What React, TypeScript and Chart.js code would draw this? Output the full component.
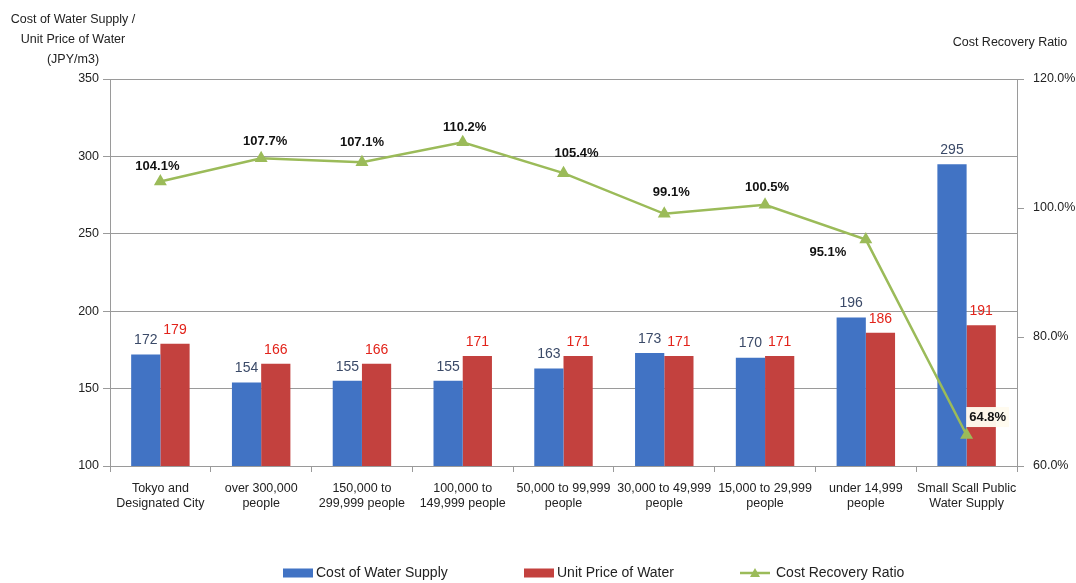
import React, { useEffect, useRef } from 'react';
import { Chart, registerables } from 'chart.js';

Chart.register(...registerables);

const categories: string[][] = [
  ['Tokyo and', 'Designated City'],
  ['over 300,000', 'people'],
  ['150,000 to', '299,999 people'],
  ['100,000 to', '149,999 people'],
  ['50,000 to 99,999', 'people'],
  ['30,000 to 49,999', 'people'],
  ['15,000 to 29,999', 'people'],
  ['under 14,999', 'people'],
  ['Small Scall Public', 'Water Supply'],
];
const costOfWaterSupply = [172, 154, 155, 155, 163, 173, 170, 196, 295];
const unitPriceOfWater = [179, 166, 166, 171, 171, 171, 171, 186, 191];
const costRecoveryRatio = [104.1, 107.7, 107.1, 110.2, 105.4, 99.1, 100.5, 95.1, 64.8];

const seriesNames = ['Cost of Water Supply', 'Unit Price of Water', 'Cost Recovery Ratio'];
const leftTitle = ['Cost of Water Supply /', 'Unit Price of Water', '(JPY/m3)'];
const rightTitle = 'Cost Recovery Ratio';

const FONT = '"Liberation Sans", Arial, sans-serif';
const BLUE = '#4173C4';
const RED = '#C3413E';
const GREEN = '#9BBB59';
const GRID = '#9a9a9a';

// label offsets (style only) for the ratio labels, relative to the point
const ratioLabelOffsets = [
  [-3, -15], [4, -17], [0, -20], [2, -15], [13, -20], [7, -21], [2, -17], [-38, 13], [21, -18],
];

const overlayPlugin = {
  id: 'overlay',
  afterDatasetsDraw(chart: any) {
    const ctx = chart.ctx;
    ctx.save();
    const metaBlue = chart.getDatasetMeta(1);
    const metaRed = chart.getDatasetMeta(2);
    ctx.font = `14px ${FONT}`;
    ctx.textAlign = 'center';
    ctx.textBaseline = 'middle';
    metaBlue.data.forEach((el: any, i: number) => {
      ctx.fillStyle = '#3B4A68';
      ctx.fillText(String(costOfWaterSupply[i]), el.x, el.y - 14);
    });
    metaRed.data.forEach((el: any, i: number) => {
      ctx.fillStyle = '#E2231A';
      ctx.fillText(String(unitPriceOfWater[i]), el.x, el.y - 14);
    });
    const metaLine = chart.getDatasetMeta(0);
    ctx.font = `bold 13px ${FONT}`;
    metaLine.data.forEach((el: any, i: number) => {
      const [dx, dy] = ratioLabelOffsets[i];
      const txt = costRecoveryRatio[i].toFixed(1) + '%';
      const x = el.x + dx;
      const y = el.y + dy;
      if (i === costRecoveryRatio.length - 1) {
        const w = ctx.measureText(txt).width + 6;
        ctx.fillStyle = 'rgba(255,251,238,0.97)';
        ctx.fillRect(x - w / 2, y - 10, w, 20);
      }
      ctx.fillStyle = '#111';
      ctx.fillText(txt, x, y);
    });
    ctx.restore();
  },
  afterDraw(chart: any) {
    const ctx = chart.ctx;
    ctx.save();
    ctx.fillStyle = '#222';
    ctx.font = `12.5px ${FONT}`;
    ctx.textAlign = 'center';
    ctx.textBaseline = 'middle';
    leftTitle.forEach((t, i) => ctx.fillText(t, 73, 20 + i * 20));
    ctx.fillText(rightTitle, 1010, 43);

    const cy = 573;
    ctx.font = `14px ${FONT}`;
    ctx.textAlign = 'left';
    ctx.fillStyle = BLUE;
    ctx.fillRect(283, cy - 4.5, 30, 9);
    ctx.fillStyle = '#222';
    ctx.fillText(seriesNames[0], 316, cy);
    ctx.fillStyle = RED;
    ctx.fillRect(524, cy - 4.5, 30, 9);
    ctx.fillStyle = '#222';
    ctx.fillText(seriesNames[1], 557, cy);
    ctx.strokeStyle = GREEN;
    ctx.lineWidth = 2.5;
    ctx.beginPath();
    ctx.moveTo(740, cy);
    ctx.lineTo(770, cy);
    ctx.stroke();
    ctx.fillStyle = GREEN;
    ctx.beginPath();
    ctx.moveTo(755, cy - 5);
    ctx.lineTo(760, cy + 4);
    ctx.lineTo(750, cy + 4);
    ctx.closePath();
    ctx.fill();
    ctx.fillStyle = '#222';
    ctx.fillText(seriesNames[2], 776, cy);
    ctx.restore();
  },
};

export default function App() {
  const canvasRef = useRef<HTMLCanvasElement | null>(null);

  useEffect(() => {
    document.body.style.margin = '0';
    const canvas = canvasRef.current;
    if (!canvas) return;
    const chart = new Chart(canvas, {
      type: 'bar',
      data: {
        labels: categories as any,
        datasets: [
          {
            type: 'line',
            label: seriesNames[2],
            data: costRecoveryRatio,
            yAxisID: 'y1',
            borderColor: GREEN,
            backgroundColor: GREEN,
            borderWidth: 2.5,
            pointStyle: 'triangle',
            pointRadius: 5,
            pointBackgroundColor: GREEN,
            pointBorderColor: GREEN,
            tension: 0,
            order: 0,
          } as any,
          {
            type: 'bar',
            label: seriesNames[0],
            data: costOfWaterSupply,
            yAxisID: 'y',
            backgroundColor: BLUE,
            barPercentage: 1,
            categoryPercentage: 0.58,
            order: 1,
          },
          {
            type: 'bar',
            label: seriesNames[1],
            data: unitPriceOfWater,
            yAxisID: 'y',
            backgroundColor: RED,
            barPercentage: 1,
            categoryPercentage: 0.58,
            order: 2,
          },
        ],
      },
      options: {
        responsive: false,
        animation: false,
        devicePixelRatio: 1,
        layout: { padding: { top: 79, left: 0, right: 0, bottom: 0 } },
        plugins: {
          legend: { display: false },
          tooltip: { enabled: false },
        },
        scales: {
          x: {
            offset: true,
            grid: { offset: true, drawOnChartArea: false, drawTicks: true, tickLength: 6, color: GRID },
            border: { color: GRID },
            ticks: {
              font: { family: FONT, size: 12.5, lineHeight: 1.2 },
              color: '#222',
              padding: 9,
              maxRotation: 0,
              autoSkip: false,
            },
            afterFit: (s: any) => { s.height = 117; },
          },
          y: {
            position: 'left',
            min: 100,
            max: 350,
            ticks: { stepSize: 50, font: { family: FONT, size: 12.5 }, color: '#222', padding: 4 },
            grid: { color: GRID, tickLength: 7 },
            border: { color: GRID },
            afterFit: (s: any) => { s.width = 110; },
          },
          y1: {
            position: 'right',
            min: 60,
            max: 120,
            ticks: {
              stepSize: 20,
              font: { family: FONT, size: 12.5 },
              color: '#222',
              padding: 9,
              callback: (v: any) => Number(v).toFixed(1) + '%',
            },
            grid: { drawOnChartArea: false, color: GRID, tickLength: 7 },
            border: { color: GRID },
            afterFit: (s: any) => { s.width = 59; },
          },
        },
      },
      plugins: [overlayPlugin],
    });
    return () => chart.destroy();
  }, []);

  return (
    <div style={{ width: 1076, height: 583, background: '#fff' }}>
      <canvas ref={canvasRef} width={1076} height={583} />
    </div>
  );
}
